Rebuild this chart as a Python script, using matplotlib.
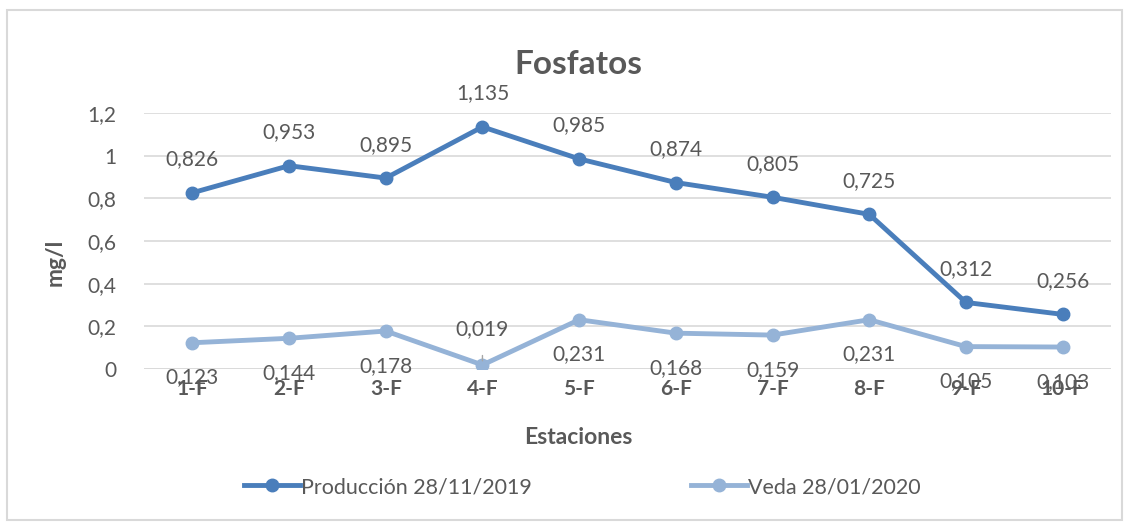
import matplotlib
matplotlib.use("Agg")
import matplotlib.pyplot as plt
from matplotlib.patches import Rectangle
from matplotlib.lines import Line2D

estaciones = ["1-F", "2-F", "3-F", "4-F", "5-F", "6-F", "7-F", "8-F", "9-F", "10-F"]
produccion = [0.826, 0.953, 0.895, 1.135, 0.985, 0.874, 0.805, 0.725, 0.312, 0.256]
veda = [0.123, 0.144, 0.178, 0.019, 0.231, 0.168, 0.159, 0.231, 0.105, 0.103]
yticks = [0, 0.2, 0.4, 0.6, 0.8, 1.0, 1.2]
ytick_labels = ["0", "0,2", "0,4", "0,6", "0,8", "1", "1,2"]

plt.rcParams['font.family'] = ['Lato', 'DejaVu Sans']
txt = "#595959"
c_prod = "#4A7EBB"
c_veda = "#95B3D7"

fig = plt.figure(figsize=(11.32, 5.31), dpi=100)
fig.patches.append(Rectangle((7/1132, 1-520/531), (1122-7)/1132, (520-10)/531,
                             transform=fig.transFigure, fill=False, edgecolor="#D9D9D9", lw=1.5))
ax = fig.add_axes([144/1132, 1-369/531, (1111-144)/1132, (369-113)/531])

x = list(range(len(estaciones)))
ax.plot(x, produccion, color=c_prod, lw=3.5, marker='o', ms=9, zorder=3)
ax.plot(x, veda, color=c_veda, lw=3.5, marker='o', ms=9, zorder=3)

ax.set_xlim(-0.5, len(estaciones)-0.5)
ax.set_ylim(0, 1.2)
ax.set_yticks(yticks)
ax.set_yticklabels(ytick_labels)
ax.set_xticks(x)
ax.set_xticklabels(estaciones, fontweight='bold')
ax.tick_params(length=0, labelsize=15, colors=txt)
ax.tick_params(axis='x', pad=7)
ax.tick_params(axis='y', pad=20)
ax.grid(axis='y', color="#D9D9D9", lw=1.2, zorder=0)
ax.set_axisbelow(True)
for s in ax.spines.values():
    s.set_visible(False)
ax.axhline(0, color="#D9D9D9", lw=1.2, zorder=1)

def fmt(v):
    return f"{v:.3f}".replace(".", ",")

for i, v in enumerate(produccion):
    ax.annotate(fmt(v), (i, v), xytext=(0, 24), textcoords='offset points',
                ha='center', va='center', fontsize=15, color=txt)
for i, v in enumerate(veda):
    if i == 3:
        ax.annotate(fmt(v), (i, v), xytext=(0, 26), textcoords='offset points',
                    ha='center', va='center', fontsize=15, color=txt,
                    arrowprops=dict(arrowstyle='-', color="#A6A6A6", lw=1, shrinkA=10, shrinkB=3))
    else:
        ax.annotate(fmt(v), (i, v), xytext=(0, -25), textcoords='offset points',
                    ha='center', va='center', fontsize=15, color=txt)

fig.text(578/1132, 1-65/531, "Fosfatos", ha='center', va='center', fontsize=24,
         fontweight='bold', color=txt)
fig.text(578/1132, 1-437/531, "Estaciones", ha='center', va='center', fontsize=16.5,
         fontweight='bold', color=txt)
fig.text(55/1132, 1-262/531, "mg/l", ha='center', va='center', fontsize=16.5,
         fontweight='bold', color=txt, rotation=90)

handles = [Line2D([], [], color=c_prod, lw=3.5, marker='o', ms=9),
           Line2D([], [], color=c_veda, lw=3.5, marker='o', ms=9)]
fig.legend(handles, ["Producción 28/11/2019", "Veda 28/01/2020"], loc='center',
           bbox_to_anchor=(582/1132, 1-487/531), ncol=2, frameon=False, fontsize=15.5,
           labelcolor=txt, handlelength=2.6, handletextpad=0.05, columnspacing=7.4)

fig.savefig("out.png", dpi=100)
